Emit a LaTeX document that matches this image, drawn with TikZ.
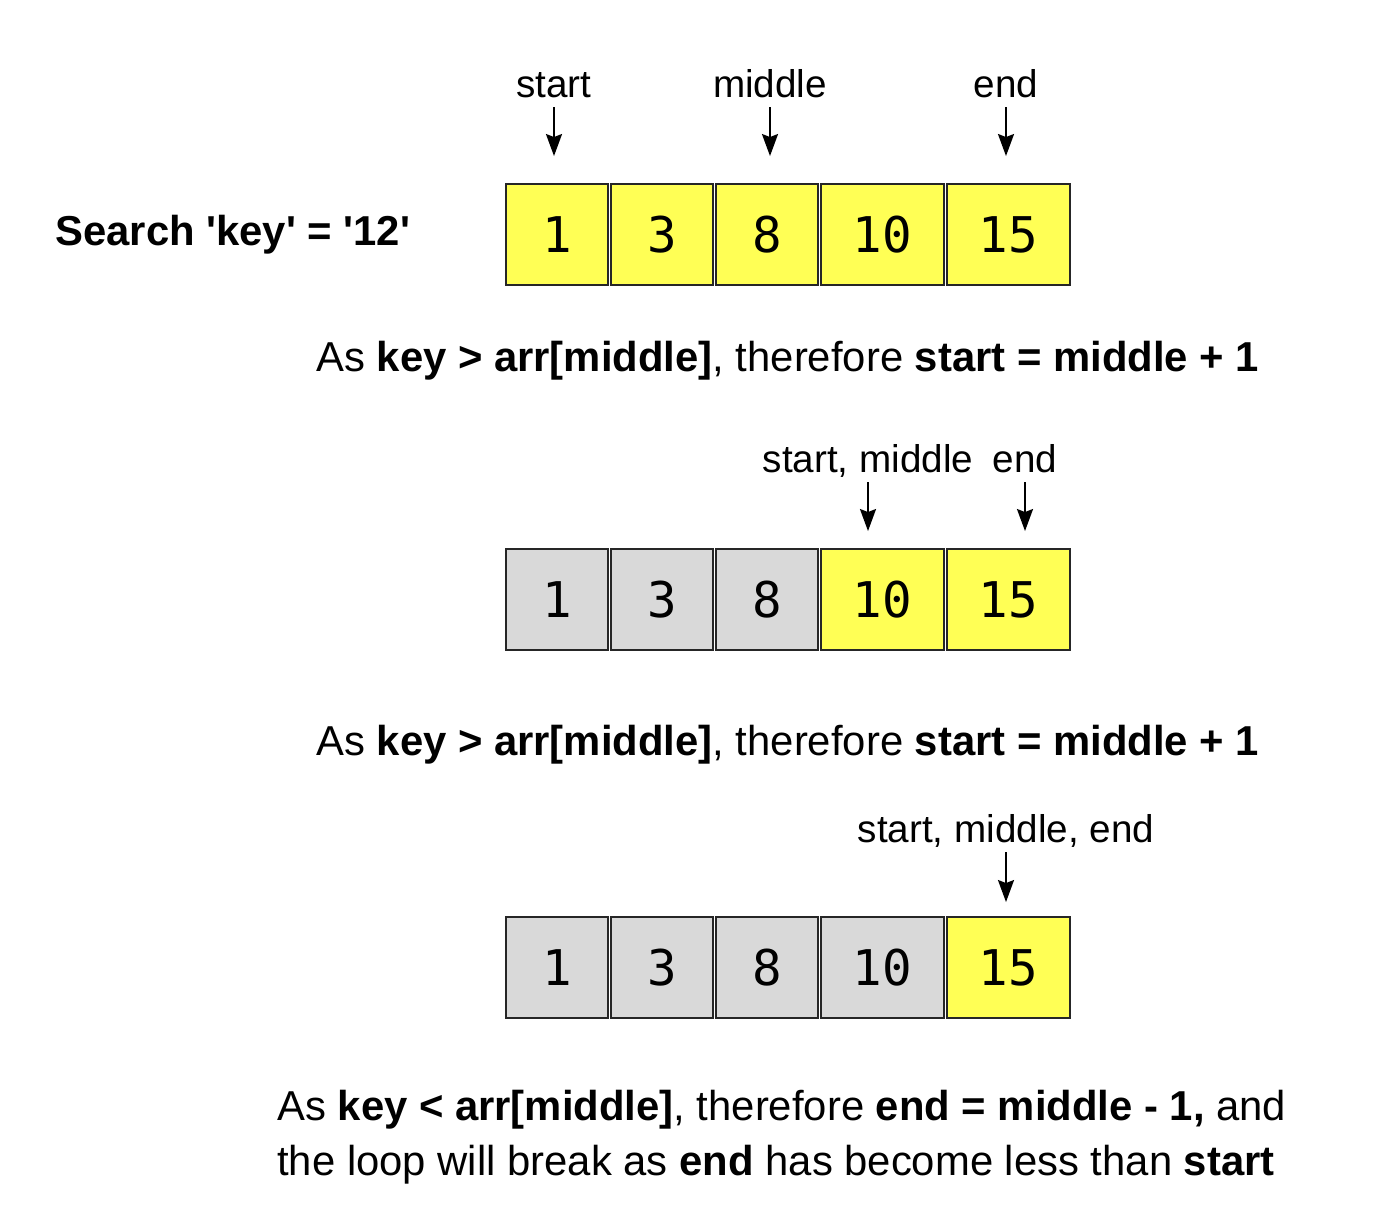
\documentclass[tikz,border=0pt]{standalone}
\usepackage{fontspec}
\setmainfont{Liberation Sans}
\newfontfamily\cellfont{DejaVu Sans Mono}
\usetikzlibrary{positioning, arrows.meta}
\definecolor{cellYellow}{RGB}{255, 255, 85}
\definecolor{cellGray}{RGB}{217, 217, 217}

\begin{document}
\begin{tikzpicture}[
    % 1 px of the page = 0.02 cm
    cell/.style={draw=black!85, line width=1.1pt, fill=cellYellow,
                 minimum width=2.04cm, minimum height=2.02cm, inner sep=0pt,
                 font=\cellfont\fontsize{28}{30}\selectfont},
    wide/.style={cell, minimum width=2.46cm},
    done/.style={fill=cellGray},
    ptrlbl/.style={anchor=base, inner sep=0pt, text depth=0pt,
                   font=\fontsize{22}{26}\selectfont},
    note/.style={anchor=west, inner sep=0pt, align=left,
                 font=\fontsize{23.8}{31.2}\selectfont},
    ptr/.style={-{Stealth[length=0.44cm, width=0.32cm, inset=0.06cm]},
                line width=1.1pt, shorten <=0.2cm}
  ]
  \useasboundingbox (0,0) rectangle (27.56,-24.44);

  % ── Step 1: whole array in range ──────────────────────────────────────
  \node[note, font=\bfseries\fontsize{23.8}{28}\selectfont]
        (search) at (1.10, -4.70)
        {Search \textquotesingle key\textquotesingle{} = \textquotesingle 12\textquotesingle};

  \node[cell]                     (a1) at (11.14, -4.69) {1};
  \node[cell, right=0.02cm of a1] (a2) {3};
  \node[cell, right=0.02cm of a2] (a3) {8};
  \node[wide, right=0.02cm of a3] (a4) {10};
  \node[wide, right=0.02cm of a4] (a5) {15};

  \node[ptrlbl] (s1) at (11.08, -1.94) {start};
  \node[ptrlbl] (m1) at (15.40, -1.94) {middle};
  \node[ptrlbl] (e1) at (20.12, -1.94) {end};

  \draw[ptr, shorten >=0.54cm] (s1.south) -- (s1.south |- a1.north);
  \draw[ptr, shorten >=0.54cm] (m1.south) -- (m1.south |- a3.north);
  \draw[ptr, shorten >=0.54cm] (e1.south) -- (e1.south |- a5.north);

  \node[note] (why1) at (6.32, -7.22)
        {As \textbf{key > arr[middle]}, therefore \textbf{start = middle + 1}};

  % ── Step 2: left half dropped ─────────────────────────────────────────
  \node[cell, done]                     (b1) at (11.14, -11.99) {1};
  \node[cell, done, right=0.02cm of b1] (b2) {3};
  \node[cell, done, right=0.02cm of b2] (b3) {8};
  \node[wide, right=0.02cm of b3]       (b4) {10};
  \node[wide, right=0.02cm of b4]       (b5) {15};

  \node[ptrlbl] (sm2) at (17.36, -9.44) {start, middle};
  \node[ptrlbl] (e2)  at (20.50, -9.44) {end};

  \draw[ptr, shorten >=0.34cm] (sm2.south) -- (sm2.south |- b4.north);
  \draw[ptr, shorten >=0.34cm] (e2.south)  -- (e2.south |- b5.north);

  \node[note] (why2) at (6.32, -14.90)
        {As \textbf{key > arr[middle]}, therefore \textbf{start = middle + 1}};

  % ── Step 3: one element left ──────────────────────────────────────────
  \node[cell, done]                     (c1) at (11.14, -19.35) {1};
  \node[cell, done, right=0.02cm of c1] (c2) {3};
  \node[cell, done, right=0.02cm of c2] (c3) {8};
  \node[wide, done, right=0.02cm of c3] (c4) {10};
  \node[wide, right=0.02cm of c4]       (c5) {15};

  \node[ptrlbl] (sme3) at (20.12, -16.84) {start, middle, end};

  \draw[ptr, shorten >=0.28cm] (sme3.south) -- (sme3.south |- c5.north);

  \node[note] (why3) at (5.54, -22.75)
        {As \textbf{key < arr[middle]}, therefore \textbf{end = middle - 1,} and\\
         the loop will break as \textbf{end} has become less than \textbf{start}};

\end{tikzpicture}
\end{document}
